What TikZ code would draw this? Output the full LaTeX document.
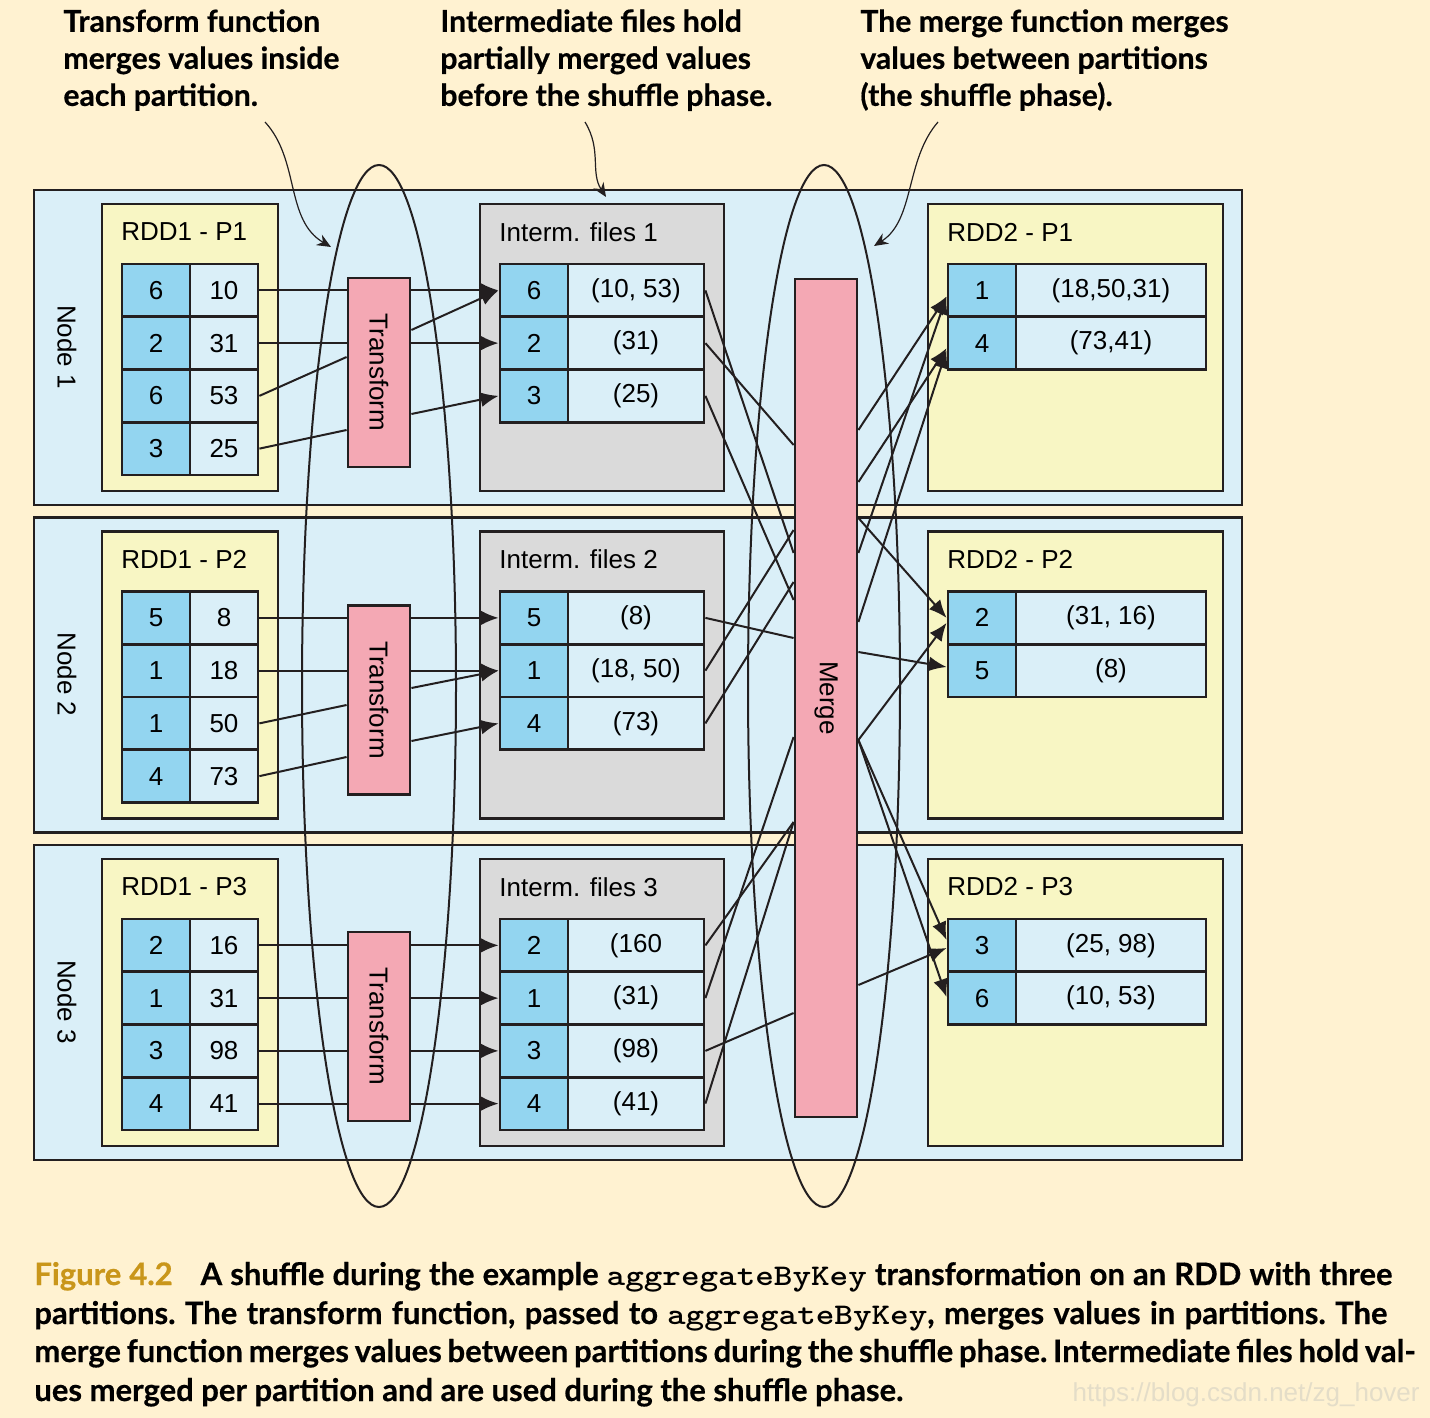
\documentclass[tikz,border=0pt]{standalone}
\usepackage{fontspec}
\setmainfont{Liberation Sans}
\newfontfamily\notefont[BoldFeatures={FakeBold=0.5}]{Lato}
\usetikzlibrary{arrows.meta,positioning,calc}

\definecolor{cream}{HTML}{FFF2D1}
\definecolor{nodeblue}{HTML}{DAEFF8}
\definecolor{keyblue}{HTML}{93D5F0}
\definecolor{paleyellow}{HTML}{F8F6C4}
\definecolor{filegray}{HTML}{DADADA}
\definecolor{funcpink}{HTML}{F4A8B4}
\definecolor{figgold}{HTML}{C9961A}
\definecolor{ink}{HTML}{231F20}
\definecolor{markgray}{HTML}{E4DDC8}

\newcommand{\codeword}[1]{{\ttfamily\fontsize{15}{19}\selectfont\scalebox{1.18}[1]{#1}}}

\tikzset{
	panel/.style={draw=ink,line width=1.2pt},
	node panel/.style={panel,fill=nodeblue},
	part panel/.style={panel,fill=paleyellow,line width=1.4pt},
	file panel/.style={panel,fill=filegray,line width=1.4pt},
	cell/.style={draw=ink,line width=1.4pt,inner sep=0pt,minimum height=26.4pt,font=\fontsize{13}{15}\selectfont},
	key cell/.style={cell,fill=keyblue,minimum width=34pt},
	val cell/.style={cell,fill=nodeblue,minimum width=34pt},
	wide cell/.style={cell,fill=nodeblue,minimum width=68pt},
	wider cell/.style={cell,fill=nodeblue,minimum width=95pt},
	func box/.style={draw=ink,line width=1.4pt,fill=funcpink,minimum width=31pt,inner sep=0pt,font=\fontsize{13}{15}\selectfont},
	box title/.style={anchor=west,inner sep=0pt,font=\fontsize{13}{15}\selectfont},
	side label/.style={rotate=-90,inner sep=0pt,font=\fontsize{13}{15}\selectfont},
	flowarrow/.style={draw=ink,line width=1pt,-{Latex[length=9pt,width=7.5pt]}},
	flowline/.style={draw=ink,line width=1pt},
	phaseline/.style={draw=ink,line width=1pt},
	note/.style={anchor=north west,align=left,inner sep=0pt,font=\notefont\bfseries\fontsize{15.1}{18.5}\selectfont},
	callout/.style={draw=ink,line width=0.6pt,-{Stealth[length=7pt,width=6pt]}},
	capline/.style={anchor=base west,inner sep=0pt,font=\notefont\bfseries\frenchspacing\fontsize{15.5}{19}\selectfont}
}

\begin{document}
\begin{tikzpicture}[x=0.5pt,y=-0.5pt]
	\useasboundingbox (0,0) rectangle (1430,1418);
	\fill[cream] (0,0) rectangle (1430,1418);

	% panels
	\foreach \b [count=\k] in {0,327.5,655}{
		\path[node panel] (34,{190+\b}) rectangle (1242,{505+\b});
		\path[part panel] (102,{204+\b}) rectangle (278,{491+\b});
		\path[file panel] (480,{204+\b}) rectangle (724,{491+\b});
		\path[part panel] (928,{204+\b}) rectangle (1223,{491+\b});
		\node[side label] (node\k) at (67,{347+\b}) {Node \k};
		\node[box title] (rddone\k) at (121,{232+\b}) {RDD1 - P\k};
		\node[box title] (files\k) at (499,{232+\b}) {Interm. files \k};
		\node[box title] (rddtwo\k) at (947,{232+\b}) {RDD2 - P\k};
	}

	% the two phases
	\draw[phaseline] (379,686) ellipse [x radius=38.5pt, y radius=260.5pt];
	\draw[phaseline] (824,686) ellipse [x radius=38pt, y radius=260.5pt];

	% RDD1 partitions
	\foreach \kk/\vv [count=\i] in {6/10,2/31,6/53,3/25}{
		\node[key cell] (aok\i) at (156,{264+52.75*(\i-0.5)}) {\kk};
		\node[val cell] (aov\i) at (224,{264+52.75*(\i-0.5)}) {\vv};
	}
	\foreach \kk/\vv [count=\i] in {5/8,1/18,1/50,4/73}{
		\node[key cell] (atk\i) at (156,{591.5+52.75*(\i-0.5)}) {\kk};
		\node[val cell] (atv\i) at (224,{591.5+52.75*(\i-0.5)}) {\vv};
	}
	\foreach \kk/\vv [count=\i] in {2/16,1/31,3/98,4/41}{
		\node[key cell] (ark\i) at (156,{919+52.75*(\i-0.5)}) {\kk};
		\node[val cell] (arv\i) at (224,{919+52.75*(\i-0.5)}) {\vv};
	}

	% intermediate files
	\foreach \kk/\vv [count=\i] in {6/{(10, 53)},2/{(31)},3/{(25)}}{
		\node[key cell] (iok\i) at (534,{264+52.75*(\i-0.5)}) {\kk};
		\node[wide cell] (iov\i) at (636,{264+52.75*(\i-0.5)}) {\vv};
	}
	\foreach \kk/\vv [count=\i] in {5/{(8)},1/{(18, 50)},4/{(73)}}{
		\node[key cell] (itk\i) at (534,{591.5+52.75*(\i-0.5)}) {\kk};
		\node[wide cell] (itv\i) at (636,{591.5+52.75*(\i-0.5)}) {\vv};
	}
	\foreach \kk/\vv [count=\i] in {2/{(160},1/{(31)},3/{(98)},4/{(41)}}{
		\node[key cell] (irk\i) at (534,{919+52.75*(\i-0.5)}) {\kk};
		\node[wide cell] (irv\i) at (636,{919+52.75*(\i-0.5)}) {\vv};
	}

	% RDD2 partitions
	\foreach \kk/\vv [count=\i] in {1/{(18,50,31)},4/{(73,41)}}{
		\node[key cell] (bok\i) at (982,{264+52.75*(\i-0.5)}) {\kk};
		\node[wider cell] (bov\i) at (1111,{264+52.75*(\i-0.5)}) {\vv};
	}
	\foreach \kk/\vv [count=\i] in {2/{(31, 16)},5/{(8)}}{
		\node[key cell] (btk\i) at (982,{591.5+52.75*(\i-0.5)}) {\kk};
		\node[wider cell] (btv\i) at (1111,{591.5+52.75*(\i-0.5)}) {\vv};
	}
	\foreach \kk/\vv [count=\i] in {3/{(25, 98)},6/{(10, 53)}}{
		\node[key cell] (brk\i) at (982,{919+52.75*(\i-0.5)}) {\kk};
		\node[wider cell] (brv\i) at (1111,{919+52.75*(\i-0.5)}) {\vv};
	}

	% transform and merge
	\foreach \b [count=\k] in {0,327.5,654}{
		\node[func box,minimum height=94.5pt] (tf\k) at (379,{372.5+\b}) {\rotatebox{-90}{Transform}};
	}
	\node[func box,minimum height=419pt] (merge) at (826,698) {\rotatebox{-90}{Merge}};

	% node 1 transform
	\draw[flowline] (aov1.east) -- (aov1 -| tf1.west);
	\draw[flowline] (aov2.east) -- (aov2 -| tf1.west);
	\draw[flowline] (aov3.east) -- ([yshift=7.75pt]tf1.west);
	\draw[flowline] (aov4.east) -- ([yshift=-28.75pt]tf1.west);
	\draw[flowarrow] (tf1.east |- iok1) -- (iok1.west);
	\draw[flowarrow] ([yshift=21.25pt]tf1.east) -- (iok1.west);
	\draw[flowarrow] (tf1.east |- iok2) -- (iok2.west);
	\draw[flowarrow] ([yshift=-20.75pt]tf1.east) -- (iok3.west);
	% node 2 transform
	\draw[flowline] (atv1.east) -- (atv1 -| tf2.west);
	\draw[flowline] (atv2.east) -- (atv2 -| tf2.west);
	\draw[flowline] (atv3.east) -- ([yshift=-2.5pt]tf2.west);
	\draw[flowline] (atv4.east) -- ([yshift=-28.5pt]tf2.west);
	\draw[flowarrow] (tf2.east |- itk1) -- (itk1.west);
	\draw[flowarrow] (tf2.east |- itk2) -- (itk2.west);
	\draw[flowarrow] ([yshift=6pt]tf2.east) -- (itk2.west);
	\draw[flowarrow] ([yshift=-20.5pt]tf2.east) -- (itk3.west);
	% node 3 transform
	\foreach \i in {1,...,4}{
		\draw[flowline] (arv\i.east) -- (arv\i -| tf3.west);
		\draw[flowarrow] (tf3.east |- irk\i) -- (irk\i.west);
	}

	% into merge
	\draw[flowline] (iov1.east) -- ([yshift=72.5pt]merge.west);
	\draw[flowline] (iov2.east) -- ([yshift=126.5pt]merge.west);
	\draw[flowline] (iov3.east) -- ([yshift=49pt]merge.west);
	\draw[flowline] (itv1.east) -- ([yshift=30pt]merge.west);
	\draw[flowline] (itv2.east) -- ([yshift=84pt]merge.west);
	\draw[flowline] (itv3.east) -- ([yshift=58pt]merge.west);
	\draw[flowline] (irv1.east) -- ([yshift=-62pt]merge.west);
	\draw[flowline] (irv2.east) -- ([yshift=-19.5pt]merge.west);
	\draw[flowline] (irv3.east) -- ([yshift=-157.5pt]merge.west);
	\draw[flowline] (irv4.east) -- ([yshift=-62pt]merge.west);

	% out of merge
	\draw[flowarrow] ([yshift=134pt]merge.east) -- ([yshift=-3pt]bok1.west);
	\draw[flowarrow] ([yshift=72.5pt]merge.east) -- ([yshift=-3pt]bok1.west);
	\draw[flowarrow] ([yshift=108pt]merge.east) -- ([yshift=-2.5pt]bok2.west);
	\draw[flowarrow] ([yshift=38pt]merge.east) -- ([yshift=-3.5pt]bok2.west);
	\draw[flowarrow] ([yshift=90pt]merge.east) -- (btk1.west);
	\draw[flowarrow] ([yshift=-21pt]merge.east) -- ([yshift=-2.5pt]btk1.west);
	\draw[flowarrow] ([yshift=23pt]merge.east) -- ([yshift=1.8pt]btk2.west);
	\draw[flowarrow] ([yshift=-21pt]merge.east) -- ([yshift=2.7pt]brk1.west);
	\draw[flowarrow] ([yshift=-143.5pt]merge.east) -- ([yshift=-1.3pt]brk1.west);
	\draw[flowarrow] ([yshift=-21pt]merge.east) -- ([yshift=0.5pt]brk2.west);

	% notes on top
	\node[note] (note transform) at (63,9) {Transform function\\merges values inside\\each partition.};
	\node[note] (note files) at (440,9) {Intermediate files hold\\partially merged values\\before the shuffle phase.};
	\node[note] (note merge) at (860,9) {The merge function merges\\values between partitions\\(the shuffle phase).};
	\coordinate (tf from) at (265,122);
	\coordinate (tf to) at (331,247);
	\coordinate (files from) at (585,122);
	\coordinate (files to) at (606,197);
	\coordinate (merge from) at (938,122);
	\coordinate (merge to) at (874,246);
	\draw[callout] (tf from) .. controls (300,160) and (285,220) .. (tf to);
	\draw[callout] (files from) .. controls (602,150) and (590,172) .. (files to);
	\draw[callout] (merge from) .. controls (905,160) and (915,220) .. (merge to);

	% caption
	\node[capline] (cap1) at (34,1285) {\makebox[679pt][s]{\textcolor{figgold}{Figure 4.2}\hspace{14pt}A shuffle during the example \codeword{aggregateByKey} transformation on an RDD with three}};
	\node[capline] (cap2) at (34,1324) {\makebox[676.5pt][s]{partitions. The transform function, passed to \codeword{aggregateByKey}, merges values in partitions. The}};
	\node[capline] (cap3) at (34,1362) {\makebox[690.5pt][s]{merge function merges values between partitions during the shuffle phase. Intermediate files hold val-}};
	\node[capline] (cap4) at (34,1401) {ues merged per partition and are used during the shuffle phase.};
	\node[anchor=base east,inner sep=0pt,text=markgray,font=\fontsize{13}{15}\selectfont] (mark) at (1420,1401) {https://blog.csdn.net/zg\_hover};
\end{tikzpicture}
\end{document}
